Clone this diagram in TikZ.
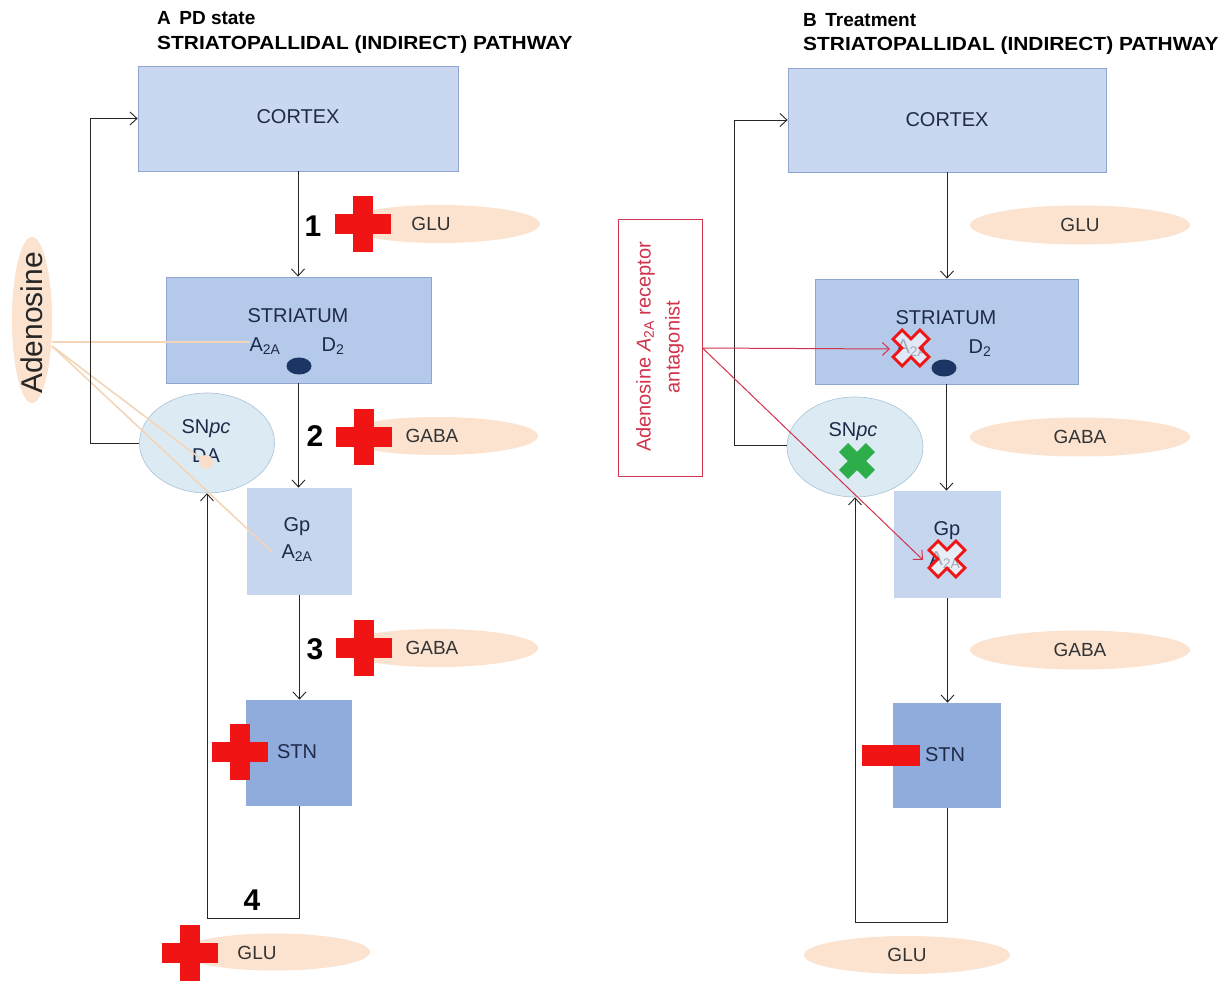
\documentclass[tikz,border=0pt]{standalone}
\usepackage{fontspec}
\setmainfont{Liberation Sans}
\usetikzlibrary{arrows.meta,shapes.geometric}
\definecolor{cortexc}{HTML}{C9D8F0}
\definecolor{striac}{HTML}{B5C9EA}
\definecolor{gpc}{HTML}{C6D6EF}
\definecolor{stnc}{HTML}{8FACDD}
\definecolor{boxline}{HTML}{8EA6D0}
\definecolor{snc}{HTML}{DCEBF3}
\definecolor{snline}{HTML}{A8C3D6}
\definecolor{peachc}{HTML}{FBE3D0}
\definecolor{peachln}{HTML}{F5D5B8}
\definecolor{navy}{HTML}{1E2A48}
\definecolor{dotc}{HTML}{1B3564}
\definecolor{crossred}{HTML}{F01414}
\definecolor{antred}{HTML}{D2334C}
\definecolor{greenx}{HTML}{2EAE4A}
\begin{document}
\begin{tikzpicture}[x=1pt,y=-1pt,
  region/.style={rectangle, draw=boxline, line width=0.8pt, inner sep=0},
  lbl/.style={font=\fontsize{20}{24}\selectfont, text=navy, inner sep=0},
  glu/.style={font=\fontsize{19}{23}\selectfont, text=black!80, inner sep=0},
  arr/.style={-{Straight Barb[length=7pt,width=13pt]}, line width=0.9pt, draw=black!85},
  redarr/.style={-{Straight Barb[length=7pt,width=13pt]}, line width=1pt, draw=antred},
  peach/.style={ellipse, fill=peachc, inner sep=0},
  num/.style={font=\bfseries\fontsize{30}{34}\selectfont, inner sep=0},
  ttl/.style={font=\bfseries\fontsize{19}{23}\selectfont, anchor=west, inner sep=0},
  plusmk/.pic={\fill[crossred] (-28,-10) rectangle (28,10); \fill[crossred] (-10,-28) rectangle (10,28);},
  xmk/.pic={\path[pic actions, rotate=45] (-6.5,-19)--(6.5,-19)--(6.5,-6.5)--(19,-6.5)--(19,6.5)--(6.5,6.5)--(6.5,19)--(-6.5,19)--(-6.5,6.5)--(-19,6.5)--(-19,-6.5)--(-6.5,-6.5)--cycle;}
]
\useasboundingbox (0,0) rectangle (1231,981);
\fill[white] (0,0) rectangle (1231,981);

%%%%%%%%%%%%%%%% PANEL A
\node[ttl] (tA1) at (157,18) {A\, PD state};
\node[ttl, xscale=1.1] (tA2) at (157,45) {STRIATOPALLIDAL (INDIRECT) PATHWAY};

% peach ellipses
\node[peach, minimum width=200, minimum height=38] (gluA1) at (440,224) {};
\node[peach, minimum width=200, minimum height=38] (gabaA1) at (438,436) {};
\node[peach, minimum width=200, minimum height=38] (gabaA2) at (438,648) {};
\node[peach, minimum width=190, minimum height=37] (gluA2) at (275,952) {};
\node[glu] (gluA1t) at (431,224) {GLU};
\node[glu] (gabaA1t) at (432,436) {GABA};
\node[glu] (gabaA2t) at (432,648) {GABA};
\node[glu] (gluA2t) at (257,953) {GLU};

% adenosine
\node[peach, minimum width=40, minimum height=166] (adoA) at (32,320) {};
\node[rotate=90, font=\fontsize{30}{32}\selectfont, text=black!85, inner sep=0] (adoAt) at (32,323) {Adenosine};

% boxes
\node[region, fill=cortexc, minimum width=320, minimum height=105] (cxA) at (298,118.5) {};
\node[lbl] (cxAt) at (298,117) {CORTEX};
\node[region, fill=striac, minimum width=265, minimum height=106] (stA) at (298.5,330) {};
\node[region, fill=gpc, draw=none, minimum width=105, minimum height=107] (gpA) at (299.5,541.5) {};
\node[region, fill=stnc, draw=none, minimum width=106, minimum height=106] (stnA) at (299,753) {};
\node[ellipse, fill=snc, draw=snline, line width=0.6pt, minimum width=135, minimum height=100, inner sep=0] (snA) at (207,443) {};

% texts inside
\node[lbl] (stAt) at (298,316) {STRIATUM};
\node[lbl] (stAa) at (265,346) {A\textsubscript{2A}};
\node[lbl] (stAd) at (333,346) {D\textsubscript{2}};
\node[ellipse, fill=dotc, minimum width=25, minimum height=17, inner sep=0] (dotA) at (299,366) {};
\node[lbl] (gpAt) at (297,527) {Gp};
\node[lbl] (gpAa) at (297,553) {A\textsubscript{2A}};
\node[lbl] (stnAt) at (297,752) {STN};
\node[lbl] (snAt) at (206,429) {SN\textit{pc}};
\node[lbl] (snAd) at (206,456) {DA};

% adenosine lines
\coordinate (adoAo) at (52,342);
\draw[peachln, line width=1.6pt] (adoAo) -- (250,342);
\draw[peachln, line width=1.6pt] (52,346) -- (205,462);
\draw[peachln, line width=1.6pt] (52,346) -- (272,552);
\fill[peachc!70!peachln] (206,462) circle (7);

% arrows
\draw[arr] (cxA.south) -- (cxA.south |- stA.north);
\draw[arr] (stA.south) -- (stA.south |- gpA.north);
\draw[arr] (gpA.south) -- (gpA.south |- stnA.north);
\draw[arr] (snA.west) -- ++(-49,0) |- (cxA.west);
\draw[arr] (stnA.south) -- ++(0,112) -| (snA.south);

% numbers
\node[num] (n1) at (313,226) {1};
\node[num] (n2) at (315,436) {2};
\node[num] (n3) at (315,649) {3};
\node[num] (n4) at (252,900) {4};

% red plus marks
\pic at (363,224) {plusmk};
\pic at (364,437) {plusmk};
\pic at (364,648) {plusmk};
\pic at (240,752) {plusmk};
\pic at (190,953) {plusmk};

%%%%%%%%%%%%%%%% PANEL B
\node[ttl] (tB1) at (803,20) {B\, Treatment};
\node[ttl, xscale=1.1] (tB2) at (803,46) {STRIATOPALLIDAL (INDIRECT) PATHWAY};

\node[peach, minimum width=220, minimum height=39] (gluB1) at (1080,225) {};
\node[peach, minimum width=220, minimum height=39] (gabaB1) at (1080,437) {};
\node[peach, minimum width=220, minimum height=39] (gabaB2) at (1080,650) {};
\node[peach, minimum width=206, minimum height=38] (gluB2) at (907,955) {};
\node[glu] (gluB1t) at (1080,225) {GLU};
\node[glu] (gabaB1t) at (1080,437) {GABA};
\node[glu] (gabaB2t) at (1080,650) {GABA};
\node[glu] (gluB2t) at (907,955) {GLU};

\node[region, fill=cortexc, minimum width=318, minimum height=104] (cxB) at (947,120) {};
\node[lbl] (cxBt) at (947,120) {CORTEX};
\node[region, fill=striac, minimum width=263, minimum height=105] (stB) at (946.5,331.5) {};
\node[region, fill=gpc, draw=none, minimum width=107, minimum height=107] (gpB) at (947.5,544.5) {};
\node[region, fill=stnc, draw=none, minimum width=108, minimum height=105] (stnB) at (947,755.5) {};
\node[ellipse, fill=snc, draw=snline, line width=0.6pt, minimum width=136, minimum height=100, inner sep=0] (snB) at (855,447) {};

\node[lbl] (stBt) at (946,318) {STRIATUM};
\node[lbl] (stBa) at (912,348) {A\textsubscript{2A}};
\node[lbl] (stBd) at (980,348) {D\textsubscript{2}};
\node[ellipse, fill=dotc, minimum width=25, minimum height=17, inner sep=0] (dotB) at (944,368) {};
\node[lbl] (gpBt) at (947,531) {Gp};
\node[lbl] (gpBa) at (945,560) {A\textsubscript{2A}};
\node[lbl] (stnBt) at (945,755) {STN};
\node[lbl] (snBt) at (853,432) {SN\textit{pc}};

% arrows
\draw[arr] (cxB.south) -- (cxB.south |- stB.north);
\draw[arr] (stB.south) -- (stB.south |- gpB.north);
\draw[arr] (gpB.south) -- (gpB.south |- stnB.north);
\draw[arr] (snB.west) ++(0,-2) -- ++(-52,0) |- (cxB.west);
\draw[arr] (stnB.south) -- ++(0,114) -| (snB.south);

% antagonist box
\node[rectangle, draw=antred, line width=1pt, minimum width=84, minimum height=256, inner sep=0] (antBox) at (660,348) {};
\node[rotate=90, text=antred, align=center, font=\fontsize{20}{29}\selectfont, inner sep=0] (antTxt) at (660,347) {Adenosine \textit{A}\textsubscript{2A} receptor\\antagonist};
\coordinate (tgSt) at (890,349);
\coordinate (tgGp) at (923,560);
\draw[redarr] (antBox.east) -- (tgSt);
\draw[redarr] (antBox.east) -- (tgGp);

% marks
\pic[draw=crossred, fill=white, fill opacity=0.6, line width=2.8pt] at (911,348) {xmk};
\pic[draw=crossred, fill=white, fill opacity=0.6, line width=2.8pt] at (947,559) {xmk};
\pic[fill=greenx] at (857,461) {xmk};
\fill[crossred] (862,745) rectangle (920,766);
\end{tikzpicture}
\end{document}
